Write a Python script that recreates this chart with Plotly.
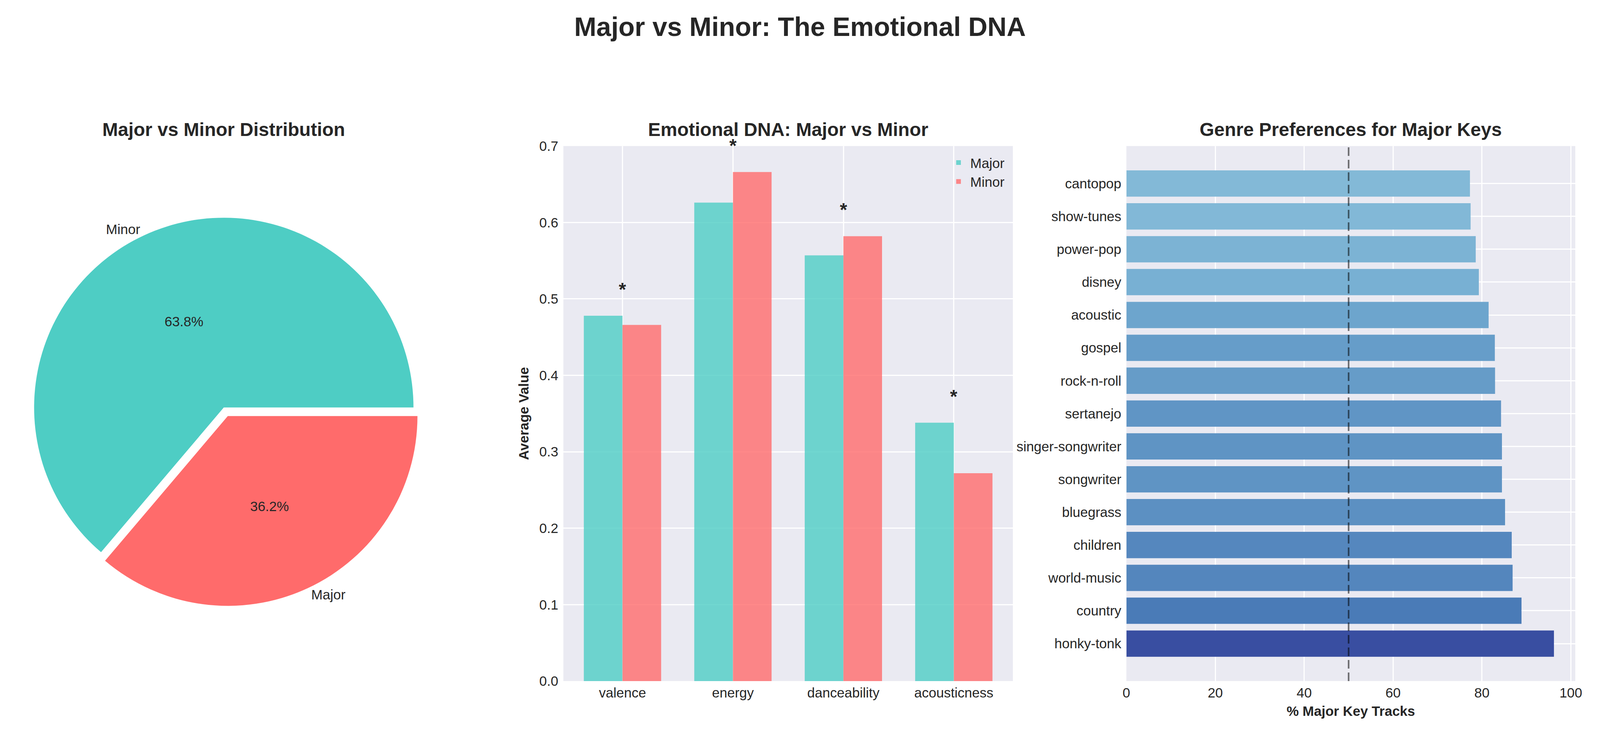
import plotly.graph_objects as go
import plotly.express as px

# pie: share of tracks by mode (labels as in the original figure)
mode_labels = ["Minor", "Major"]
mode_share = [63.8, 36.2]

# average audio features per mode
features = ["valence", "energy", "danceability", "acousticness"]
major_avg = [0.478, 0.626, 0.557, 0.338]
minor_avg = [0.466, 0.666, 0.582, 0.272]
significant = [True, True, True, True]

# genres with highest share of major-key tracks (bottom to top)
genres = ["honky-tonk", "country", "world-music", "children", "bluegrass",
          "songwriter", "singer-songwriter", "sertanejo", "rock-n-roll",
          "gospel", "acoustic", "disney", "power-pop", "show-tunes", "cantopop"]
genre_pct = [96.2, 88.9, 86.9, 86.7, 85.2, 84.5, 84.5, 84.3, 82.95, 82.9,
             81.5, 79.3, 78.6, 77.45, 77.3]

FONT = "Liberation Sans, Arial, sans-serif"
TXT = "#262626"
BG = "#EAEAF2"
TEAL = "#4ECDC4"
RED = "#FF6B6B"

TICK = 35
TITLE = 48

# first slice runs counter-clockwise from 3 o'clock, like matplotlib's default
start = 90 - 3.6 * mode_share[0]

fig = go.Figure()

pie_dom = dict(x=[0.0088, 0.2651], y=[0.1754, 0.7269])
fig.add_trace(go.Pie(
    labels=mode_labels, values=mode_share, sort=False,
    direction="counterclockwise", rotation=start,
    pull=[0, 0.05], domain=pie_dom,
    marker=dict(colors=[TEAL, RED], line=dict(width=0)),
    texttemplate="%{percent:.1%}",
    textposition="inside", insidetextorientation="horizontal",
    insidetextfont=dict(color=TXT, size=TICK, family=FONT),
    showlegend=False, hoverinfo="label+percent",
))
# transparent copy that only carries the outside slice labels
fig.add_trace(go.Pie(
    labels=mode_labels, values=mode_share, sort=False,
    direction="counterclockwise", rotation=start,
    pull=[0, 0.05], domain=pie_dom,
    marker=dict(colors=["rgba(0,0,0,0)", "rgba(0,0,0,0)"], line=dict(width=0)),
    textinfo="label", textposition="outside",
    outsidetextfont=dict(color=TXT, size=TICK, family=FONT),
    showlegend=False, hoverinfo="skip",
))

fig.add_trace(go.Bar(
    x=features, y=major_avg, name="Major", width=0.35, offset=-0.35,
    marker=dict(color="rgba(78,205,196,0.8)", line=dict(width=0)),
    xaxis="x", yaxis="y",
))
fig.add_trace(go.Bar(
    x=features, y=minor_avg, name="Minor", width=0.35, offset=0,
    marker=dict(color="rgba(255,107,107,0.8)", line=dict(width=0)),
    xaxis="x", yaxis="y",
))

fig.add_trace(go.Bar(
    x=genre_pct, y=genres, orientation="h", width=0.8,
    marker=dict(color=genre_pct, colorscale=px.colors.diverging.RdYlBu,
                cmin=0, cmax=100, line=dict(width=0)),
    xaxis="x2", yaxis="y2", showlegend=False,
))

fig.add_shape(type="line", xref="x2", yref="y2 domain", x0=50, x1=50, y0=0, y1=1,
              line=dict(color="rgba(0,0,0,0.55)", width=4, dash="22px,10px"),
              layer="above")

for f, a, b, s in zip(features, major_avg, minor_avg, significant):
    if s:
        fig.add_annotation(x=f, y=max(a, b) + 0.02, xref="x", yref="y",
                           text="<b>*</b>", showarrow=False, yanchor="bottom",
                           xanchor="center",
                           font=dict(size=TITLE, color=TXT, family=FONT))

title_font = dict(size=TITLE, color=TXT, family=FONT)
fig.add_annotation(text="<b>Major vs Minor Distribution</b>", xref="paper", yref="paper",
                   x=(pie_dom["x"][0] + pie_dom["x"][1]) / 2, y=0.836, xanchor="center",
                   showarrow=False, yanchor="middle", font=title_font)
fig.add_annotation(text="<b>Emotional DNA: Major vs Minor</b>", xref="x domain", yref="paper",
                   x=0.5, y=0.836, xanchor="center", showarrow=False, yanchor="middle",
                   font=title_font)
fig.add_annotation(text="<b>Genre Preferences for Major Keys</b>", xref="x2 domain", yref="paper",
                   x=0.5, y=0.836, xanchor="center", showarrow=False, yanchor="middle",
                   font=title_font)

axis_common = dict(showgrid=True, gridcolor="white", gridwidth=3, zeroline=False,
                   showline=False, ticks="", tickfont=dict(size=TICK, color=TXT, family=FONT))
label_font = dict(size=TICK, color=TXT, family=FONT)

fig.update_layout(
    margin=dict(l=0, r=0, t=0, b=0),
    paper_bgcolor="white", plot_bgcolor=BG,
    font=dict(family=FONT, color=TXT),
    barmode="overlay",
    title=dict(text="<b>Major vs Minor: The Emotional DNA</b>", x=0.5, xanchor="center",
               y=0.968, yanchor="middle", font=dict(size=68, color=TXT, family=FONT)),
    xaxis=dict(domain=[0.3515, 0.6355], range=[-0.535, 3.535], anchor="y",
               ticklabelstandoff=6, **axis_common),
    yaxis=dict(domain=[0.0725, 0.813], range=[0, 0.7], anchor="x", dtick=0.1,
               tickformat=".1f", ticklabelstandoff=12,
               title=dict(text="<b>Average Value</b>", font=label_font, standoff=16),
               **axis_common),
    xaxis2=dict(domain=[0.7072, 0.9908], range=[0, 101.0], anchor="y2", dtick=20,
                ticklabelstandoff=6,
                title=dict(text="<b>% Major Key Tracks</b>", font=label_font, standoff=16),
                **axis_common),
    yaxis2=dict(domain=[0.0725, 0.813], range=[-1.14, 15.14], anchor="x2",
                ticklabelstandoff=12, **axis_common),
    legend=dict(x=0.6315, xref="paper", xanchor="right", y=0.806, yanchor="top",
                bgcolor="rgba(0,0,0,0)", font=dict(size=TICK, color=TXT, family=FONT),
                itemwidth=50, tracegroupgap=0),
)

fig.write_html("out.html")
